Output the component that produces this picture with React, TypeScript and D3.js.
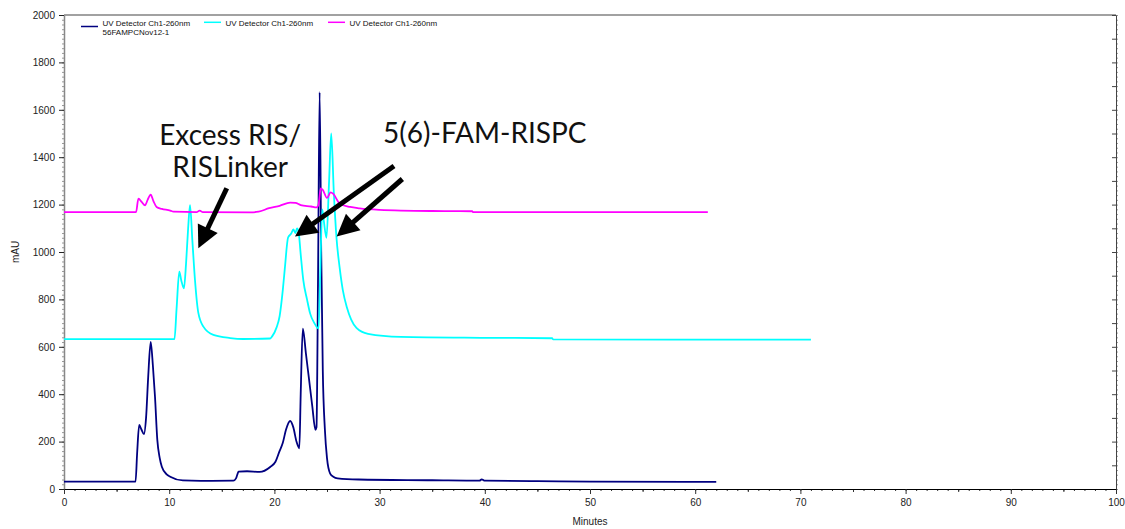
import React, { useEffect, useRef } from "react";
import * as d3 from "d3";

// chromatogram traces, [minutes, mAU]
const navyTrace: [number, number][] = [
  [0, 31], [6.8, 31], [6.95, 150], [7.15, 270], [7.35, 252], [7.6, 232], [7.8, 300], [8.0, 470],
  [8.24, 621], [8.45, 520], [8.65, 389], [8.87, 207], [9.1, 130], [9.3, 94], [9.76, 62], [10.1, 52],
  [11.3, 36], [13, 34], [16.1, 35], [16.35, 45], [16.6, 73], [17.4, 75], [18.6, 72], [19.6, 93],
  [20.1, 115], [20.5, 161], [20.8, 195], [21.1, 250], [21.5, 287], [21.8, 260], [22.1, 200],
  [22.37, 172], [22.5, 400], [22.7, 677], [23.0, 570], [23.3, 460], [23.6, 350], [23.9, 250],
  [24.0, 260], [24.15, 900], [24.3, 1674], [24.45, 1000], [24.6, 500], [24.8, 250], [25.0, 130],
  [25.3, 65], [25.6, 52], [26, 45], [28, 40], [35, 37], [39.5, 35], [39.7, 41], [40.0, 35],
  [45, 33], [50, 31], [62, 30],
];

const cyanTrace: [number, number][] = [
  [0, 632], [10.5, 632], [10.7, 760], [10.96, 917], [11.15, 880], [11.4, 847], [11.6, 950],
  [11.8, 1100], [11.98, 1198], [12.2, 1050], [12.45, 882], [12.77, 743], [13.25, 685], [14.2, 650],
  [15.8, 637], [17, 633], [19.6, 635], [19.8, 645], [20.2, 681], [20.5, 730], [20.8, 840],
  [21.0, 935], [21.3, 1061], [21.6, 1078], [21.8, 1095], [22.0, 1080], [22.15, 1100], [22.3, 1085],
  [22.5, 990], [22.75, 880], [23.1, 800], [23.4, 740], [23.8, 700], [24.2, 677], [24.35, 900],
  [24.55, 1180], [24.7, 1130], [24.95, 1060], [25.2, 1300], [25.4, 1500], [25.65, 1250],
  [25.9, 1061], [26.2, 935], [26.5, 840], [26.9, 765], [27.3, 715], [27.8, 680], [28.9, 655],
  [32, 642], [40, 638], [46.4, 636], [46.5, 631], [71, 630],
];

const magentaTrace: [number, number][] = [
  [0, 1168], [6.85, 1168], [7.07, 1225], [7.4, 1210], [7.7, 1197], [7.95, 1220], [8.24, 1242],
  [8.5, 1215], [8.8, 1190], [9.3, 1182], [10.1, 1175], [10.4, 1170], [12.6, 1168], [12.9, 1175],
  [13.2, 1168], [17.7, 1167], [18.5, 1170], [19.5, 1185], [20.5, 1195], [21.5, 1208], [22, 1207],
  [22.5, 1198], [23.5, 1192], [24, 1188], [24.2, 1200], [24.4, 1268], [24.6, 1262], [25, 1228],
  [25.35, 1252], [25.6, 1245], [26.2, 1205], [27.2, 1190], [28.1, 1184], [30, 1178], [35, 1173],
  [38.8, 1172], [38.9, 1168], [61.2, 1168],
];

const legendLabels = ["UV Detector  Ch1-260nm", "UV Detector  Ch1-260nm", "UV Detector  Ch1-260nm"];
const legendSub = "56FAMPCNov12-1";

const xTickValues = [0, 10, 20, 30, 40, 50, 60, 70, 80, 90, 100];
const yTickValues = [0, 200, 400, 600, 800, 1000, 1200, 1400, 1600, 1800, 2000];

// annotation text anchors and arrows, in minutes / mAU
const labels: { text: string; t: number; v: number }[] = [
  { text: "Excess RIS/", t: 15.8, v: 1453 },
  { text: "RISLinker", t: 15.8, v: 1316 },
  { text: "5(6)-FAM-RISPC", t: 40.0, v: 1459 },
];
const arrows: [number, number, number, number][] = [
  [15.47, 1269, 12.77, 1016],
  [31.37, 1363, 21.96, 1065],
  [32.16, 1308, 25.92, 1065],
];

const colors = ["#000080", "#00FFFF", "#FF00FF"];

const W = 1125;
const H = 529;
const left = 64, right = 1116, top = 15, bottom = 489;

export default function App() {
  const xAxisRef = useRef<SVGGElement>(null);
  const yAxisRef = useRef<SVGGElement>(null);
  const rAxisRef = useRef<SVGGElement>(null);

  const x = d3.scaleLinear().domain([0, 100]).range([left, right]);
  const y = d3.scaleLinear().domain([0, 2000]).range([bottom, top]);

  const line = d3.line<[number, number]>()
    .x(d => x(d[0]))
    .y(d => y(d[1]))
    .curve(d3.curveMonotoneX);

  useEffect(() => {
    const font = "10px 'Liberation Sans', Arial, sans-serif";

    const gx = d3.select(xAxisRef.current!);
    gx.selectAll("*").remove();
    gx.append("g").call(d3.axisBottom(x).tickValues(d3.range(0, 101, 1)).tickSize(2).tickFormat(() => ""))
      .call(g => g.select(".domain").remove());
    gx.append("g").call(d3.axisBottom(x).tickValues(d3.range(5, 100, 10)).tickSize(3).tickFormat(() => ""))
      .call(g => g.select(".domain").remove());
    gx.append("g").call(d3.axisBottom(x).tickValues(xTickValues).tickSize(5).tickSizeOuter(0).tickFormat(d3.format("d")))
      .call(g => g.selectAll("text").style("font", font).attr("fill", "#222").attr("dy", "0.9em"))
      .call(g => g.select(".domain").attr("stroke", "#000"));
    gx.selectAll("line").attr("stroke", "#333");

    const gy = d3.select(yAxisRef.current!);
    gy.selectAll("*").remove();
    gy.append("g").call(d3.axisLeft(y).tickValues(d3.range(0, 2001, 20)).tickSize(2).tickFormat(() => ""))
      .call(g => g.select(".domain").remove())
      .call(g => g.selectAll("line").attr("stroke", "#999"));
    gy.append("g").call(d3.axisLeft(y).tickValues(yTickValues).tickSize(5).tickSizeOuter(0).tickFormat(d3.format("d")))
      .call(g => g.selectAll("text").style("font", font).attr("fill", "#222").attr("dx", "-0.1em"))
      .call(g => g.selectAll(".tick line").attr("stroke", "#222"))
      .call(g => g.select(".domain").attr("stroke", "#888").attr("stroke-width", 1.5));

    const gr = d3.select(rAxisRef.current!);
    gr.selectAll("*").remove();
    gr.append("g").call(d3.axisRight(y).tickValues(d3.range(0, 2001, 20)).tickSize(2).tickFormat(() => ""))
      .call(g => g.select(".domain").remove())
      .call(g => g.selectAll("line").attr("stroke", "#999"));
    gr.append("g").call(d3.axisLeft(y).tickValues(d3.range(0, 2001, 100)).tickSize(4).tickSizeOuter(0).tickFormat(() => ""))
      .call(g => g.selectAll("line").attr("stroke", "#444"))
      .call(g => g.select(".domain").attr("stroke", "#444"));
  }, []);

  const traces = [navyTrace, cyanTrace, magentaTrace];
  const legendX = [81, 204, 328];

  return (
    <svg width={W} height={H} style={{ position: "absolute", left: 0, top: 0, background: "#fff" }}
      fontFamily="'Liberation Sans', Arial, sans-serif">
      <rect x={0} y={0} width={W} height={H} fill="#fff" />
      <line x1={left} x2={right} y1={top} y2={top} stroke="#444" strokeWidth={1.2} />
      <g ref={rAxisRef} transform={`translate(${right},0)`} />
      <g ref={yAxisRef} transform={`translate(${left},0)`} />
      <g ref={xAxisRef} transform={`translate(0,${bottom})`} />

      {traces.map((tr, i) => (
        <path key={i} d={line(tr) || ""} fill="none" stroke={colors[i]} strokeWidth={1.8} strokeLinejoin="round" />
      ))}

      {legendLabels.map((lab, i) => (
        <g key={i}>
          <line x1={legendX[i]} x2={legendX[i] + 17} y1={i === 0 ? 26.5 : 22.3} y2={i === 0 ? 26.5 : 22.3}
            stroke={colors[i]} strokeWidth={1.5} />
          <text x={legendX[i] + 21.5} y={25.5} fontSize={8} fill="#111">{lab}</text>
          {i === 0 && <text x={legendX[i] + 21.5} y={35} fontSize={8} fill="#111">{legendSub}</text>}
        </g>
      ))}

      <text x={(left + right) / 2} y={525} fontSize={10} textAnchor="middle" fill="#222">Minutes</text>
      <text transform={`translate(19,${(top + bottom) / 2}) rotate(-90)`} fontSize={10} textAnchor="middle" fill="#222">mAU</text>

      {labels.map((l, i) => (
        <text key={i} x={x(l.t)} y={y(l.v)} fontFamily="Lato, 'Open Sans', sans-serif" fontSize={28}
          textAnchor="middle" fill="#111">{l.text}</text>
      ))}

      {arrows.map((a, i) => {
        const x1 = x(a[0]), y1 = y(a[1]), x2 = x(a[2]), y2 = y(a[3]);
        const len = Math.hypot(x2 - x1, y2 - y1);
        const ux = (x2 - x1) / len, uy = (y2 - y1) / len;
        const hl = 22, hw = 11;
        const bx = x2 - ux * hl, by = y2 - uy * hl;
        const pts = [
          [x2, y2],
          [bx - uy * hw, by + ux * hw],
          [bx + uy * hw, by - ux * hw],
        ].map(p => p.join(",")).join(" ");
        return (
          <g key={i}>
            <line x1={x1} y1={y1} x2={bx + ux * 3} y2={by + uy * 3} stroke="#000" strokeWidth={5} />
            <polygon points={pts} fill="#000" />
          </g>
        );
      })}
    </svg>
  );
}
